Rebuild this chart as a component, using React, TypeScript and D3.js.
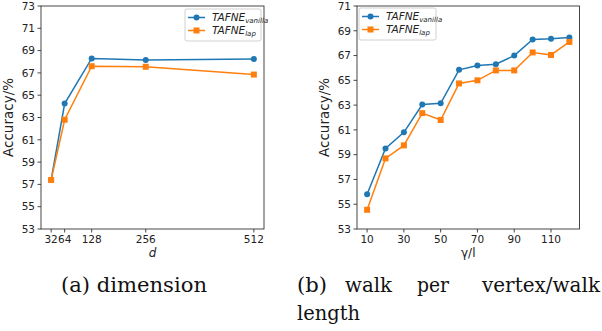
import React from "react";
import * as d3 from "d3";

const dimX = [32, 64, 128, 256, 512];
const dimVanilla = [57.4, 64.25, 68.3, 68.15, 68.25];
const dimLap = [57.4, 62.8, 67.6, 67.55, 66.85];
const dimXTicks = [32, 64, 128, 256, 512];
const dimYTicks = [53, 55, 57, 59, 61, 63, 65, 67, 69, 71, 73];

const walkX = [10, 20, 30, 40, 50, 60, 70, 80, 90, 100, 110, 120];
const walkVanilla = [55.8, 59.5, 60.8, 63.05, 63.15, 65.85, 66.2, 66.3, 67.0, 68.3, 68.35, 68.45];
const walkLap = [54.55, 58.7, 59.75, 62.35, 61.8, 64.75, 65.0, 65.8, 65.8, 67.25, 67.05, 68.1];
const walkXTicks = [10, 30, 50, 70, 90, 110];
const walkYTicks = [53, 55, 57, 59, 61, 63, 65, 67, 69, 71];

const BLUE = "#1f77b4";
const ORANGE = "#ff7f0e";
const SANS = "'DejaVu Sans', sans-serif";
const SERIF = "'DejaVu Serif', serif";

type PanelProps = {
  left: number;
  right: number;
  top: number;
  bottom: number;
  xDomain: [number, number];
  yDomain: [number, number];
  xs: number[];
  a: number[];
  b: number[];
  xTicks: number[];
  yTicks: number[];
  xLabel: React.ReactNode;
  legend: { x: number; y: number; w: number; h: number };
};

function Panel(p: PanelProps) {
  const x = d3.scaleLinear().domain(p.xDomain).range([p.left, p.right]);
  const y = d3.scaleLinear().domain(p.yDomain).range([p.bottom, p.top]);
  const line = d3
    .line<number>()
    .x((_, i) => x(p.xs[i]))
    .y((d) => y(d));
  const axisColor = "#333";
  const L = p.legend;
  return (
    <g>
      <path d={line(p.a) || ""} fill="none" stroke={BLUE} strokeWidth={1.5} />
      <path d={line(p.b) || ""} fill="none" stroke={ORANGE} strokeWidth={1.5} />
      {p.a.map((v, i) => (
        <circle key={"a" + i} cx={x(p.xs[i])} cy={y(v)} r={3} fill={BLUE} />
      ))}
      {p.b.map((v, i) => (
        <rect key={"b" + i} x={x(p.xs[i]) - 3} y={y(v) - 3} width={6} height={6} fill={ORANGE} />
      ))}
      <rect
        x={p.left}
        y={p.top}
        width={p.right - p.left}
        height={p.bottom - p.top}
        fill="none"
        stroke={axisColor}
        strokeWidth={0.9}
      />
      {p.yTicks.map((t) => (
        <g key={"y" + t}>
          <line x1={p.left - 3.5} x2={p.left} y1={y(t)} y2={y(t)} stroke={axisColor} strokeWidth={0.9} />
          <text
            x={p.left - 6}
            y={y(t)}
            dy="0.36em"
            textAnchor="end"
            fontFamily={SANS}
            fontSize={10.5}
            fill="#222"
          >
            {t}
          </text>
        </g>
      ))}
      {p.xTicks.map((t) => (
        <g key={"x" + t}>
          <line x1={x(t)} x2={x(t)} y1={p.bottom} y2={p.bottom + 3.5} stroke={axisColor} strokeWidth={0.9} />
          <text
            x={x(t)}
            y={p.bottom + 14}
            textAnchor="middle"
            fontFamily={SANS}
            fontSize={10.5}
            fill="#222"
          >
            {t}
          </text>
        </g>
      ))}
      <text
        transform={`translate(${p.left - 28},${(p.top + p.bottom) / 2}) rotate(-90)`}
        textAnchor="middle"
        fontFamily={SANS}
        fontSize={13.5}
        fill="#222"
      >
        Accuracy/%
      </text>
      <text
        x={(p.left + p.right) / 2}
        y={p.bottom + 28}
        textAnchor="middle"
        fontFamily={SANS}
        fontSize={12}
        fill="#222"
      >
        {p.xLabel}
      </text>
      <rect x={L.x} y={L.y} width={L.w} height={L.h} rx={2} fill="white" fillOpacity={0.8} stroke="#ccc" strokeWidth={0.9} />
      <line x1={L.x + 3} x2={L.x + 20} y1={L.y + 8.5} y2={L.y + 8.5} stroke={BLUE} strokeWidth={1.5} />
      <circle cx={L.x + 11.5} cy={L.y + 8.5} r={3} fill={BLUE} />
      <line x1={L.x + 3} x2={L.x + 20} y1={L.y + 21.5} y2={L.y + 21.5} stroke={ORANGE} strokeWidth={1.5} />
      <rect x={L.x + 8.5} y={L.y + 18.5} width={6} height={6} fill={ORANGE} />
      <text x={L.x + 27} y={L.y + 12} fontFamily={SANS} fontSize={10.5} fontStyle="italic" fill="#222">
        TAFNE
        <tspan fontSize={7} dy={2}>vanilla</tspan>
      </text>
      <text x={L.x + 27} y={L.y + 25} fontFamily={SANS} fontSize={10.5} fontStyle="italic" fill="#222">
        TAFNE
        <tspan fontSize={7} dy={2}>lap</tspan>
      </text>
    </g>
  );
}

export default function App() {
  return (
    <svg
      width={602}
      height={331}
      style={{ position: "absolute", left: 0, top: 0, background: "white" }}
    >
      <rect x={0} y={0} width={602} height={331} fill="white" />
      <Panel
        left={41}
        right={264}
        top={6}
        bottom={229}
        xDomain={[8, 536]}
        yDomain={[53, 73]}
        xs={dimX}
        a={dimVanilla}
        b={dimLap}
        xTicks={dimXTicks}
        yTicks={dimYTicks}
        xLabel={<tspan fontStyle="italic">d</tspan>}
        legend={{ x: 185, y: 9, w: 76, h: 32 }}
      />
      <Panel
        left={357}
        right={579.5}
        top={6}
        bottom={229}
        xDomain={[4.5, 125.5]}
        yDomain={[53, 71]}
        xs={walkX}
        a={walkVanilla}
        b={walkLap}
        xTicks={walkXTicks}
        yTicks={walkYTicks}
        xLabel={"γ/l"}
        legend={{ x: 359, y: 8, w: 77, h: 32 }}
      />
      <text x={61} y={292} fontFamily={SERIF} fontSize={20} textLength={146} lengthAdjust="spacingAndGlyphs" fill="#111">
        (a) dimension
      </text>
      <text x={297} y={292} fontFamily={SERIF} fontSize={20} textLength={30} lengthAdjust="spacingAndGlyphs" fill="#111">(b)</text>
      <text x={345} y={292} fontFamily={SERIF} fontSize={20} textLength={47} lengthAdjust="spacingAndGlyphs" fill="#111">walk</text>
      <text x={417} y={292} fontFamily={SERIF} fontSize={20} textLength={32} lengthAdjust="spacingAndGlyphs" fill="#111">per</text>
      <text x={482} y={292} fontFamily={SERIF} fontSize={20} textLength={118} lengthAdjust="spacingAndGlyphs" fill="#111">vertex/walk</text>
      <text x={297} y={320} fontFamily={SERIF} fontSize={20} textLength={63} lengthAdjust="spacingAndGlyphs" fill="#111">length</text>
    </svg>
  );
}
